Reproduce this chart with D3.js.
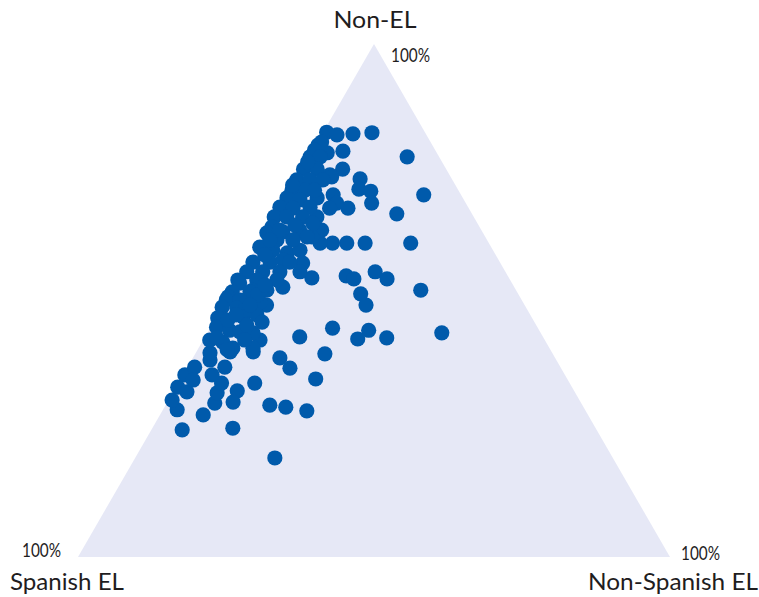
<!DOCTYPE html>
<html>
<head>
<meta charset="utf-8">
<script src="https://cdn.jsdelivr.net/npm/d3@7"></script>
<style>
  html, body { margin: 0; padding: 0; background: #ffffff; }
  svg { display: block; }
  text { font-family: Lato, "Open Sans", "DejaVu Sans", sans-serif; fill: #1f1d1e; }
</style>
</head>
<body>
<svg id="chart" width="759" height="597"></svg>
<script>
// Ternary composition of each school (percent)
const spanishEL = [16.6,15.1,12.3,9.0,19.3,15.7,17.5,5.4,15.5,16.7,14.9,15.9,20.4,12.7,6.3,21.6,20.2,24.0,20.9,13.2,26.4,28.5,27.3,26.3,22.0,20.7,16.1,26.6,26.8,33.3,16.7,26.5,28.8,31.5,34.7,41.1,38.5,46.5,45.8,42.5,52.8,50.3,47.1,57.1,61.3,70.0,65.0,68.9,68.8,66.6,65.5,64.2,61.8,63.3,53.2,56.9,58.7,61.9,60.5,58.8,59.6,56.7,58.5,57.8,54.3,50.4,48.1,43.6,39.1,27.0,29.3,26.5,21.8,18.5,18.4,20.4,20.1,24.1,21.8,20.1,26.3,24.1,21.9,28.1,25.9,29.7,27.7,24.6,21.8,31.8,29.7,26.7,23.5,33.7,31.6,28.9,27.8,35.1,33.7,30.7,36.5,30.1,39.1,37.2,35.0,32.6,41.7,38.8,36.4,33.4,34.7,43.7,41.0,38.1,46.0,42.8,39.4,46.0,44.5,48.1,45.1,42.1,49.3,49.9,47.6,44.4,51.3,48.9,53.1,48.7,46.2,54.2,52.3,50.7,48.6,56.6,54.6,53.5,50.1,54.6,32.8,35.5,39.0,47.8,51.6,48.9,46.0,27.5,22.7,34.1,31.0,44.1,49.7,55.2,36.7,41.9,50.7,35.5,24.3,46.4];
const nonSpanishEL = [0.6,2.6,5.2,8.3,0.4,5.2,6.9,16.6,10.8,11.6,13.8,15.1,11.6,20.4,23.1,7.8,5.3,14.8,17.9,25.6,12.4,10.3,17.9,19.5,22.4,25.1,31.9,22.1,24.1,12.3,39.6,30.8,27.0,26.0,20.7,16.0,21.9,14.7,17.4,22.8,17.6,20.5,24.4,23.6,13.6,5.2,7.3,2.4,0.6,0.3,2.3,0.3,1.2,2.2,12.9,10.7,11.1,8.1,7.5,7.3,4.9,6.3,3.1,2.4,5.7,9.6,9.6,7.3,8.3,9.3,8.3,7.2,0.2,2.7,0.7,0.3,1.9,0.3,2.6,5.8,0.2,2.4,4.6,0.4,2.6,0.3,2.7,5.4,9.2,0.0,2.3,5.1,8.5,0.0,2.1,4.8,7.1,0.6,2.9,5.6,0.3,7.5,0.5,3.0,5.7,7.6,0.8,3.7,5.7,9.3,9.7,0.7,3.4,6.3,0.0,3.2,6.6,0.6,3.5,0.2,3.2,5.9,0.0,0.0,2.3,5.9,0.0,2.6,0.3,4.5,6.6,1.0,3.5,5.4,7.7,1.1,3.5,5.8,9.2,5.0,5.4,2.7,2.1,4.1,2.2,5.9,8.2,0.0,0.3,2.2,4.3,4.8,3.1,2.1,1.5,5.1,7.0,7.0,4.2,4.5];
const nonEL = [82.8,82.3,82.5,82.7,80.3,79.1,75.6,78.0,73.7,71.7,71.3,69.0,68.0,66.9,70.6,70.6,74.5,61.2,61.2,61.2,61.2,61.2,54.8,54.2,55.6,54.2,52.0,51.3,49.1,54.4,43.7,42.7,44.2,42.5,44.6,42.9,39.6,38.8,36.8,34.7,29.6,29.2,28.5,19.3,25.1,24.8,27.7,28.7,30.6,33.1,32.2,35.5,37.0,34.5,33.9,32.4,30.2,30.0,32.0,33.9,35.5,37.0,38.4,39.8,40.0,40.0,42.3,49.1,52.6,63.7,62.4,66.3,78.0,78.8,80.9,79.3,78.0,75.6,75.6,74.1,73.5,73.5,73.5,71.5,71.5,70.0,69.6,70.0,69.0,68.2,68.0,68.2,68.0,66.3,66.3,66.3,65.1,64.3,63.4,63.7,63.2,62.4,60.4,59.8,59.3,59.8,57.5,57.5,57.9,57.3,55.6,55.6,55.6,55.6,54.0,54.0,54.0,53.4,52.0,51.7,51.7,52.0,50.7,50.1,50.1,49.7,48.7,48.5,46.6,46.8,47.2,44.8,44.2,43.9,43.7,42.3,41.9,40.7,40.7,40.4,61.8,61.8,58.9,48.1,46.2,45.2,45.8,72.5,77.0,63.7,64.7,51.1,47.2,42.7,61.8,53.0,42.3,57.5,71.5,49.1];

const cornerLabels = ["Non-EL", "Spanish EL", "Non-Spanish EL"];
const maxLabel = "100%";

const svg = d3.select("#chart");

// Ternary geometry via linear scales
const x = d3.scaleLinear().domain([0, 100]).range([78, 670]);
const y = d3.scaleLinear().domain([0, 100]).range([557, 44]);
const project = (b, c) => [x(b + c / 2), y(c)];

const corners = [project(0, 0), project(100, 0), project(0, 100)];

svg.append("path")
  .attr("d", d3.line()(corners) + "Z")
  .attr("fill", "#e6e8f6");

const data = nonEL.map((c, i) => ({ a: spanishEL[i], b: nonSpanishEL[i], c }));

svg.append("g").selectAll("circle")
  .data(data)
  .join("circle")
  .attr("cx", d => project(d.b, d.c)[0])
  .attr("cy", d => project(d.b, d.c)[1])
  .attr("r", 7.6)
  .attr("fill", "#005aab");

// Corner labels
svg.append("text").attr("x", 375).attr("y", 28).attr("text-anchor", "middle")
  .attr("font-size", 24).attr("textLength", 83).attr("lengthAdjust", "spacingAndGlyphs")
  .text(cornerLabels[0]);
svg.append("text").attr("x", 10).attr("y", 590)
  .attr("font-size", 24).attr("textLength", 114).attr("lengthAdjust", "spacingAndGlyphs")
  .text(cornerLabels[1]);
svg.append("text").attr("x", 588).attr("y", 590)
  .attr("font-size", 24).attr("textLength", 170).attr("lengthAdjust", "spacingAndGlyphs")
  .text(cornerLabels[2]);

// 100% markers
const pct = [[391, 62], [22, 557], [681, 560]];
pct.forEach(([px, py]) => {
  svg.append("text").attr("x", px).attr("y", py)
    .attr("font-size", 19)
    .attr("textLength", 39).attr("lengthAdjust", "spacingAndGlyphs")
    .text(maxLabel);
});
</script>
</body>
</html>
